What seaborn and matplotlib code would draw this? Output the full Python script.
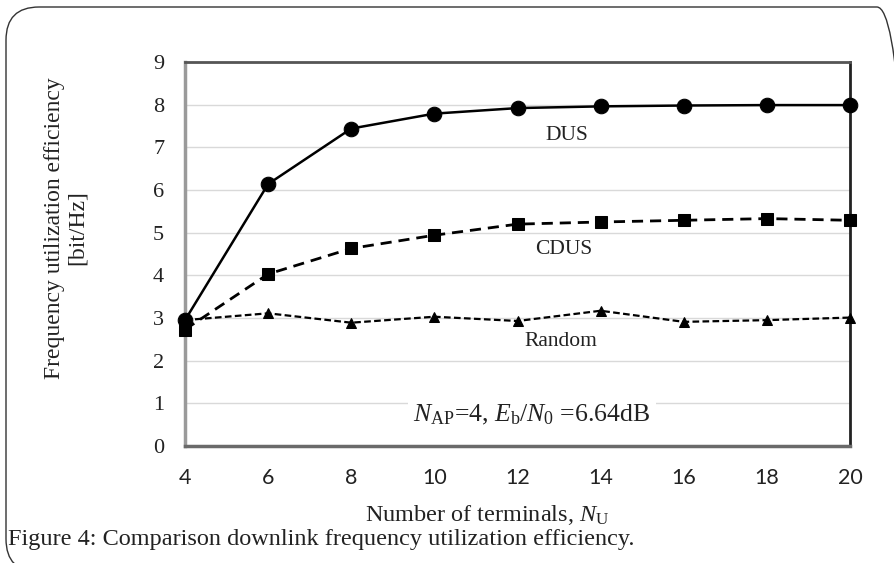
import numpy as np
import pandas as pd
import seaborn as sns
import matplotlib
matplotlib.use("Agg")
import matplotlib.pyplot as plt
from matplotlib.patches import FancyBboxPatch

terminals = [4, 6, 8, 10, 12, 14, 16, 18, 20]
dus = [2.95, 6.14, 7.44, 7.79, 7.92, 7.96, 7.98, 7.99, 7.99]
cdus = [2.73, 4.03, 4.63, 4.94, 5.20, 5.25, 5.29, 5.33, 5.29]
rand = [2.95, 3.11, 2.89, 3.03, 2.93, 3.17, 2.91, 2.95, 3.01]
y_ticks = [0, 1, 2, 3, 4, 5, 6, 7, 8, 9]

sns.set_theme(style="white")
plt.rcParams['font.family'] = ['Liberation Serif', 'DejaVu Serif']
plt.rcParams['mathtext.fontset'] = 'custom'
plt.rcParams['mathtext.rm'] = 'Liberation Serif'
plt.rcParams['mathtext.it'] = 'Liberation Serif:italic'

fig = plt.figure(figsize=(8.94, 5.63), dpi=100)
ax = fig.add_axes([185/894, 1-446/563, (850-185)/894, (446-62)/563])

df = pd.DataFrame({"N": terminals, "DUS": dus, "CDUS": cdus, "Random": rand})

sns.lineplot(data=df, x="N", y="DUS", ax=ax, color="black", lw=1.8,
             marker="o", markersize=10.5, markeredgecolor="black", zorder=3, clip_on=False)
sns.lineplot(data=df, x="N", y="CDUS", ax=ax, color="black", lw=2.0,
             marker="s", markersize=9, markeredgecolor="black", zorder=4, clip_on=False)
ax.lines[-1].set_dashes([4, 2.5])
sns.lineplot(data=df, x="N", y="Random", ax=ax, color="black", lw=1.6,
             marker="^", markersize=7, markeredgecolor="black", zorder=5, clip_on=False)
ax.lines[-1].set_dashes([3, 1.5])

ax.set_xlim(4, 20)
ax.set_ylim(0, 9)
ax.set_xticks(terminals)
ax.set_yticks(y_ticks)
ax.set_xticklabels([str(t) for t in terminals], fontfamily="Lato", fontsize=15.5)
ax.set_yticklabels([str(t) for t in y_ticks], fontsize=16)
ax.tick_params(axis='x', length=0, pad=16, colors="#222222")
ax.tick_params(axis='y', length=0, pad=15, colors="#222222")
ax.grid(axis='y', color="#d9d9d9", lw=1)
ax.set_axisbelow(True)
ax.set_xlabel("")
ax.set_ylabel("")

ax.spines['left'].set_color("#9a9a9a")
ax.spines['left'].set_linewidth(2.5)
ax.spines['bottom'].set_color("#6a6a6a")
ax.spines['bottom'].set_linewidth(2.5)
ax.spines['top'].set_color("#555555")
ax.spines['top'].set_linewidth(2)
ax.spines['right'].set_color("#222222")
ax.spines['right'].set_linewidth(2)
for s in ax.spines.values():
    s.set_visible(True)

ax.text(13.19, 7.28, "DUS", fontsize=15.5, ha='center', va='center', color="#222222")
ax.text(13.12, 4.60, "CDUS", fontsize=15.5, ha='center', va='center', color="#222222")
ax.text(13.05, 2.46, "Random", fontsize=15.5, ha='center', va='center', color="#222222")
ax.text(12.35, 0.73, r"$N_{\mathrm{AP}}$=4, $E_{\mathrm{b}}/N_0$ =6.64dB", fontsize=18.5,
        ha='center', va='center', color="#222222",
        bbox=dict(facecolor='white', edgecolor='none', pad=4), zorder=6)

fig.text(487/894, 1-515/563, r"Number of terminals, $N_{\mathrm{U}}$", fontsize=17.5,
         ha='center', va='center', color="#222222")
fig.text(66/894, 1-228/563, "Frequency utilization efficiency\n[bit/Hz]", fontsize=17,
         rotation=90, ha='center', va='center', multialignment='center',
         color="#222222", linespacing=1.1)
fig.text(8/894, 1-540/563, "Figure 4: Comparison downlink frequency utilization efficiency.",
         fontsize=17.5, ha='left', va='center', color="#222222")

frame = FancyBboxPatch((6/894, 1-572/563), (910-6)/894, (572-7)/563,
                       boxstyle="round,pad=0,rounding_size=0.037",
                       transform=fig.transFigure, facecolor='none',
                       edgecolor="#333333", lw=1.0, mutation_aspect=894/563)
fig.patches.append(frame)

fig.savefig("out.png", dpi=100)
